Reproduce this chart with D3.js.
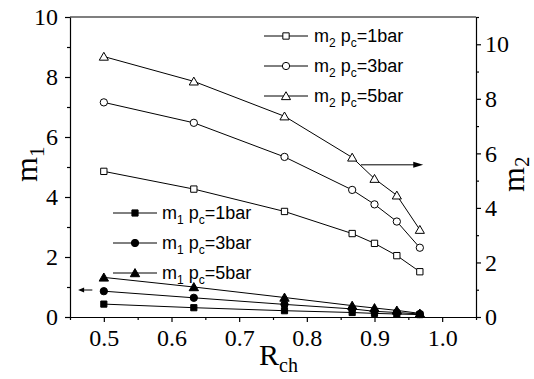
<!DOCTYPE html>
<html><head><meta charset="utf-8">
<script src="https://cdn.jsdelivr.net/npm/d3@7"></script>
<style>body{margin:0;background:#fff}svg{display:block}</style>
</head><body>
<svg id="c" width="534" height="379"></svg>
<script>
const rch = [0.5, 0.633, 0.767, 0.867, 0.9, 0.933, 0.967];
const m1_1bar = [0.43, 0.31, 0.21, 0.15, 0.12, 0.10, 0.08];
const m1_3bar = [0.86, 0.64, 0.42, 0.27, 0.19, 0.15, 0.10];
const m1_5bar = [1.32, 1.00, 0.65, 0.38, 0.30, 0.22, 0.12];
const m2_1bar = [5.34, 4.69, 3.87, 3.06, 2.70, 2.25, 1.66];
const m2_3bar = [7.87, 7.12, 5.87, 4.66, 4.13, 3.50, 2.54];
const m2_5bar = [9.55, 8.64, 7.36, 5.85, 5.07, 4.46, 3.20];
const xTicks = [0.5, 0.6, 0.7, 0.8, 0.9, 1.0];
const yLeftTicks = [0, 2, 4, 6, 8, 10];
const yRightTicks = [0, 2, 4, 6, 8, 10];
const series = [
  {name: "m2", p: "1", axis: "R", sym: "square", fill: false, vals: m2_1bar},
  {name: "m2", p: "3", axis: "R", sym: "circle", fill: false, vals: m2_3bar},
  {name: "m2", p: "5", axis: "R", sym: "triangle", fill: false, vals: m2_5bar},
  {name: "m1", p: "1", axis: "L", sym: "square", fill: true, vals: m1_1bar},
  {name: "m1", p: "3", axis: "L", sym: "circle", fill: true, vals: m1_3bar},
  {name: "m1", p: "5", axis: "L", sym: "triangle", fill: true, vals: m1_5bar}
];
// arrows in data units
const arrowLeft = {x0: 0.483, x1: 0.462, y: 0.9, axis: "L"};
const arrowRight = {x0: 0.880, x1: 0.972, y: 5.58, axis: "R"};

const svg = d3.select("#c");
const L = 70, R = 476, T = 17, B = 317;
const x = d3.scaleLinear([0.45, 1.05], [L, R]);
const yL = d3.scaleLinear([0, 10], [B, T]);
const yR = d3.scaleLinear([0, 11], [B, T]);
const serif = "'Liberation Serif','Times New Roman',serif";
const sans = "'Liberation Sans',Arial,sans-serif";

svg.append("line").attr("x1", L).attr("x2", R).attr("y1", T).attr("y2", T).attr("stroke", "#000").attr("stroke-width", 1.2);

function styleAxis(g) {
  g.attr("font-family", null).attr("font-size", null);
  g.select(".domain").attr("stroke", "#000").attr("stroke-width", 1.2);
  g.selectAll(".tick line").attr("stroke", "#000").attr("stroke-width", 1.2);
  g.selectAll(".tick text").style("font-family", serif).style("font-size", "24px").attr("fill", "#000");
}
function minor(g) {
  g.select(".domain").remove();
  g.selectAll(".tick line").attr("stroke", "#000").attr("stroke-width", 1.2);
}

const gx = svg.append("g").attr("transform", `translate(0,${B})`)
  .call(d3.axisBottom(x).tickValues(xTicks).tickFormat(d3.format(".1f")).tickSizeInner(5).tickSizeOuter(0).tickPadding(7));
styleAxis(gx);
minor(svg.append("g").attr("transform", `translate(0,${B})`)
  .call(d3.axisBottom(x).tickValues([0.45,0.55,0.65,0.75,0.85,0.95,1.05]).tickFormat("").tickSizeInner(3).tickSizeOuter(0)));

const gy = svg.append("g").attr("transform", `translate(${L},0)`)
  .call(d3.axisLeft(yL).tickValues(yLeftTicks).tickFormat(d3.format("d")).tickSizeInner(5).tickSizeOuter(0).tickPadding(7));
styleAxis(gy);
minor(svg.append("g").attr("transform", `translate(${L},0)`)
  .call(d3.axisLeft(yL).tickValues([1,3,5,7,9]).tickFormat("").tickSizeInner(3).tickSizeOuter(0)));

const gr = svg.append("g").attr("transform", `translate(${R},0)`)
  .call(d3.axisRight(yR).tickValues(yRightTicks).tickFormat(d3.format("d")).tickSizeInner(5).tickSizeOuter(0).tickPadding(4));
styleAxis(gr);
minor(svg.append("g").attr("transform", `translate(${R},0)`)
  .call(d3.axisRight(yR).tickValues([1,3,5,7,9,11]).tickFormat("").tickSizeInner(3).tickSizeOuter(0)));

function subText(g, main, sub, size, subSize, shift) {
  const t = g.append("text").style("font-family", serif).style("font-size", size + "px").attr("fill", "#000");
  t.append("tspan").text(main);
  t.append("tspan").style("font-size", subSize + "px").attr("dy", shift).text(sub);
  return t;
}
subText(svg.append("g").attr("transform", "translate(259,365)"), "R", "ch", 30, 20, 7);
subText(svg.append("g").attr("transform", "translate(37,182) rotate(-90)"), "m", "1", 32, 21, 7);
subText(svg.append("g").attr("transform", "translate(524,192) rotate(-90)"), "m", "2", 32, 21, 5);

const symType = {square: d3.symbolSquare, circle: d3.symbolCircle, triangle: d3.symbolTriangle};
function symSize(s, fill) {
  if (s === "square") return fill ? 38 : 40;
  if (s === "circle") return fill ? 42 : 42;
  return fill ? 38 : 36;
}
function drawSym(g, s, fill, cx, cy) {
  const dy = s === "triangle" ? 1.0 : 0;
  g.append("path").attr("d", d3.symbol(symType[s], symSize(s, fill))())
    .attr("transform", `translate(${cx},${cy + dy})`)
    .attr("fill", fill ? "#000" : "#fff").attr("stroke", "#000").attr("stroke-width", 1);
}

const line = d3.line();
series.forEach(sr => {
  const ys = sr.axis === "L" ? yL : yR;
  const pts = rch.map((r, i) => [x(r), ys(sr.vals[i])]);
  svg.append("path").attr("d", line(pts)).attr("fill", "none").attr("stroke", "#000").attr("stroke-width", 1);
  const g = svg.append("g");
  pts.forEach(p => drawSym(g, sr.sym, sr.fill, p[0], p[1]));
});

function arrow(a, headLen, headW) {
  const ys = a.axis === "L" ? yL : yR;
  const x0 = x(a.x0), x1 = x(a.x1), yy = ys(a.y);
  const dir = Math.sign(x1 - x0);
  svg.append("line").attr("x1", x0).attr("x2", x1 - dir * headLen * 0.5).attr("y1", yy).attr("y2", yy).attr("stroke", "#000").attr("stroke-width", 1);
  svg.append("path").attr("d", `M${x1},${yy} L${x1 - dir * headLen},${yy - headW} L${x1 - dir * headLen},${yy + headW} Z`).attr("fill", "#000");
}
arrow(arrowLeft, 6, 2.5);
arrow(arrowRight, 10, 3);

function legend(items, lx0, lx1, tx, yStart, step) {
  items.forEach((sr, i) => {
    const yy = yStart + i * step;
    svg.append("line").attr("x1", lx0).attr("x2", lx1).attr("y1", yy).attr("y2", yy).attr("stroke", "#000").attr("stroke-width", 1);
    drawSym(svg, sr.sym, sr.fill, (lx0 + lx1) / 2, yy);
    const t = svg.append("text").attr("x", tx).attr("y", yy + 6).style("font-family", sans).style("font-size", "18px").attr("fill", "#000");
    t.append("tspan").text("m");
    t.append("tspan").style("font-size", "12px").attr("dy", 5).text(sr.name.slice(1));
    t.append("tspan").attr("dy", -5).text(" p");
    t.append("tspan").style("font-size", "12px").attr("dy", 5).text("c");
    t.append("tspan").attr("dy", -5).text("=" + sr.p + "bar");
  });
}
legend(series.slice(0, 3), 264, 308, 314, 36, 30);
legend(series.slice(3), 113, 157, 162, 213, 30);
</script>
</body></html>
